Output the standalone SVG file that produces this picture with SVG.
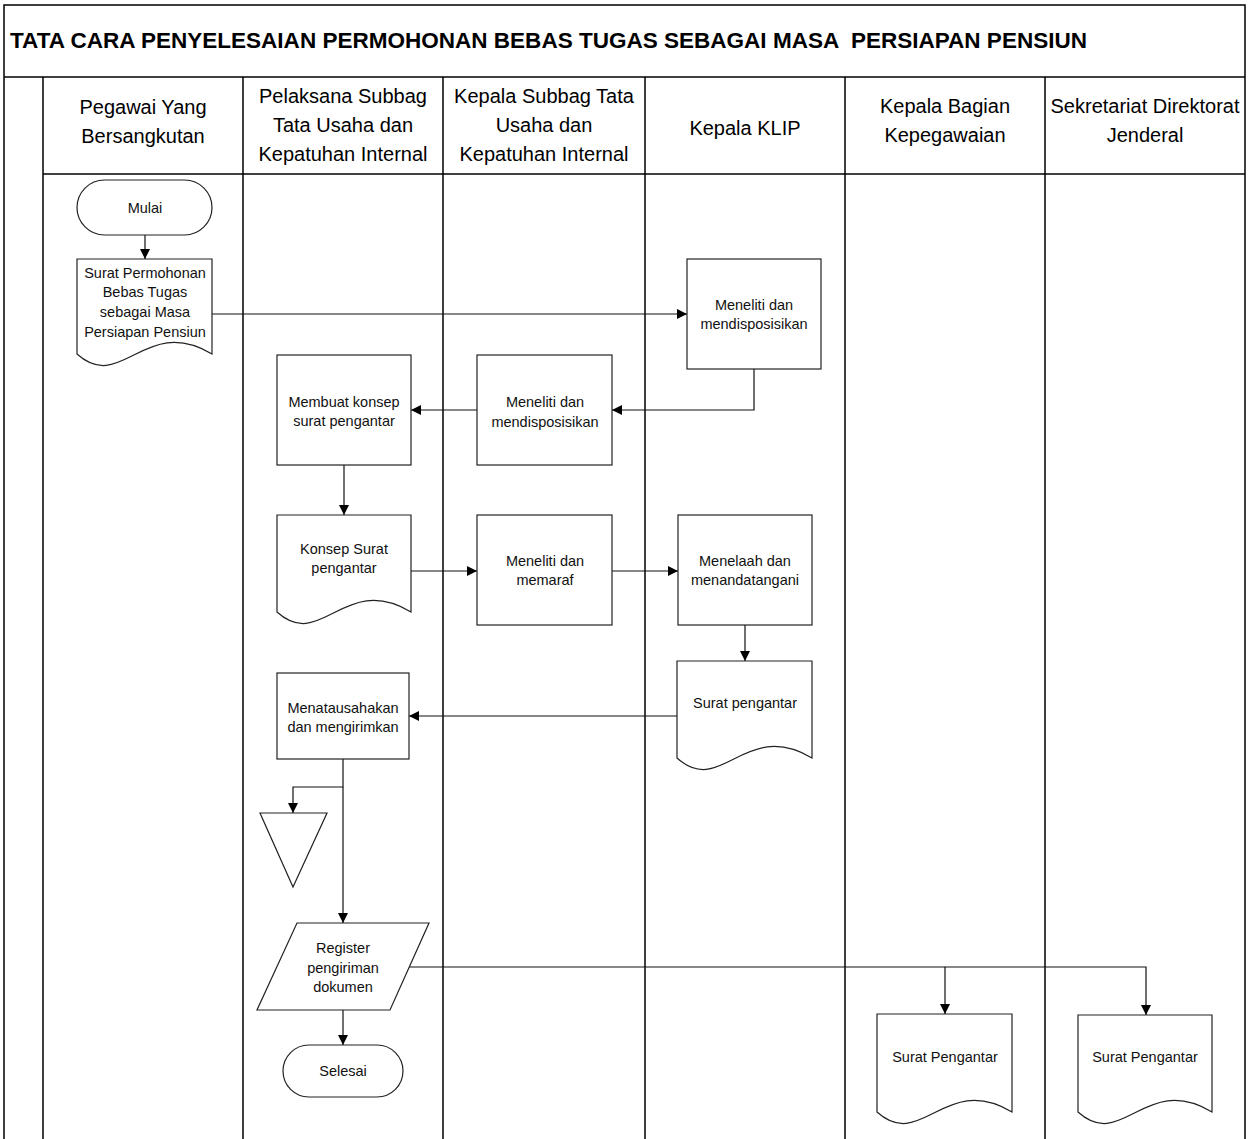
<svg xmlns="http://www.w3.org/2000/svg" width="1255" height="1139" viewBox="0 0 1255 1139">
<defs>
<marker id="arr" viewBox="0 0 10 10" refX="10" refY="5" markerWidth="10" markerHeight="10" markerUnits="userSpaceOnUse" orient="auto">
<path d="M0,0 L10,5 L0,10 Z" fill="#000"/>
</marker>
<style>
.lane{stroke:#000;stroke-width:1.5;fill:none}
.shape{stroke:#222;stroke-width:1.2;fill:#fff}
.conn{stroke:#111;stroke-width:1.2;fill:none}
.title{font-family:"Liberation Sans",Arial,sans-serif;font-weight:bold;font-size:22.5px;fill:#000;white-space:pre}
.hdr{font-family:"Liberation Sans",Arial,sans-serif;font-size:20px;fill:#000;text-anchor:middle}
.lbl{font-family:"Liberation Sans",Arial,sans-serif;font-size:14.5px;fill:#111;text-anchor:middle}
</style>
</defs>
<rect width="1255" height="1139" fill="#fff"/>
<g id="frame">
<path class="lane" d="M4,1139 V5 H1245 V1139"/>
<line class="lane" x1="4" y1="77" x2="1245" y2="77"/>
<line class="lane" x1="43" y1="174" x2="1245" y2="174"/>
<line class="lane" x1="43" y1="77" x2="43" y2="1139"/>
<line class="lane" x1="243" y1="77" x2="243" y2="1139"/>
<line class="lane" x1="443" y1="77" x2="443" y2="1139"/>
<line class="lane" x1="645" y1="77" x2="645" y2="1139"/>
<line class="lane" x1="845" y1="77" x2="845" y2="1139"/>
<line class="lane" x1="1045" y1="77" x2="1045" y2="1139"/>
<text class="title" x="10" y="48" xml:space="preserve" textLength="1077" lengthAdjust="spacingAndGlyphs">TATA CARA PENYELESAIAN PERMOHONAN BEBAS TUGAS SEBAGAI MASA  PERSIAPAN PENSIUN</text>
</g>
<g id="headers">
<text class="hdr" x="143" y="114">Pegawai Yang</text>
<text class="hdr" x="143" y="143">Bersangkutan</text>
<text class="hdr" x="343" y="103">Pelaksana Subbag</text>
<text class="hdr" x="343" y="132">Tata Usaha dan</text>
<text class="hdr" x="343" y="161">Kepatuhan Internal</text>
<text class="hdr" x="544" y="103">Kepala Subbag Tata</text>
<text class="hdr" x="544" y="132">Usaha dan</text>
<text class="hdr" x="544" y="161">Kepatuhan Internal</text>
<text class="hdr" x="745" y="135">Kepala KLIP</text>
<text class="hdr" x="945" y="113">Kepala Bagian</text>
<text class="hdr" x="945" y="142">Kepegawaian</text>
<text class="hdr" x="1145" y="113">Sekretariat Direktorat</text>
<text class="hdr" x="1145" y="142">Jenderal</text>
</g>
<g id="connectors">
<path class="conn" d="M145,235 V259" marker-end="url(#arr)"/>
<path class="conn" d="M212,314 H687" marker-end="url(#arr)"/>
<path class="conn" d="M754,369 V410 H612" marker-end="url(#arr)"/>
<path class="conn" d="M477,410 H411" marker-end="url(#arr)"/>
<path class="conn" d="M344,465 V515" marker-end="url(#arr)"/>
<path class="conn" d="M411,571 H477" marker-end="url(#arr)"/>
<path class="conn" d="M612,571 H678" marker-end="url(#arr)"/>
<path class="conn" d="M745,625 V661" marker-end="url(#arr)"/>
<path class="conn" d="M677,716 H409" marker-end="url(#arr)"/>
<path class="conn" d="M343,759 V787 H293 V813" marker-end="url(#arr)"/>
<path class="conn" d="M343,787 V923" marker-end="url(#arr)"/>
<path class="conn" d="M409,967 H945 V1014" marker-end="url(#arr)"/>
<path class="conn" d="M945,967 H1146 V1015" marker-end="url(#arr)"/>
<path class="conn" d="M343,1010 V1045" marker-end="url(#arr)"/>
</g>
<g id="n-mulai">
<rect class="shape" x="77" y="180" width="135" height="55" rx="27.5"/>
<text class="lbl" x="145" y="213">Mulai</text>
</g>
<g id="n-surat-permohonan">
<path class="shape" d="M77,259 H212 V354 C144.5,314 121.5,394 77,354 Z"/>
<text class="lbl" x="145" y="278">Surat Permohonan</text>
<text class="lbl" x="145" y="297">Bebas Tugas</text>
<text class="lbl" x="145" y="317">sebagai Masa</text>
<text class="lbl" x="145" y="337">Persiapan Pensiun</text>
</g>
<g id="n-klip-meneliti">
<rect class="shape" x="687" y="259" width="134" height="110"/>
<text class="lbl" x="754" y="310">Meneliti dan</text>
<text class="lbl" x="754" y="329">mendisposisikan</text>
</g>
<g id="n-kasubbag-meneliti">
<rect class="shape" x="477" y="355" width="135" height="110"/>
<text class="lbl" x="545" y="407">Meneliti dan</text>
<text class="lbl" x="545" y="427">mendisposisikan</text>
</g>
<g id="n-membuat-konsep">
<rect class="shape" x="277" y="355" width="134" height="110"/>
<text class="lbl" x="344" y="407">Membuat konsep</text>
<text class="lbl" x="344" y="426">surat pengantar</text>
</g>
<g id="n-konsep-surat">
<path class="shape" d="M277,515 H411 V612 C344,572 321.2,652 277,612 Z"/>
<text class="lbl" x="344" y="554">Konsep Surat</text>
<text class="lbl" x="344" y="573">pengantar</text>
</g>
<g id="n-memaraf">
<rect class="shape" x="477" y="515" width="135" height="110"/>
<text class="lbl" x="545" y="566">Meneliti dan</text>
<text class="lbl" x="545" y="585">memaraf</text>
</g>
<g id="n-menandatangani">
<rect class="shape" x="678" y="515" width="134" height="110"/>
<text class="lbl" x="745" y="566">Menelaah dan</text>
<text class="lbl" x="745" y="585">menandatangani</text>
</g>
<g id="n-surat-pengantar-klip">
<path class="shape" d="M677,661 H812 V758 C744.5,718 721.5,798 677,758 Z"/>
<text class="lbl" x="745" y="708">Surat pengantar</text>
</g>
<g id="n-menatausahakan">
<rect class="shape" x="277" y="673" width="132" height="86"/>
<text class="lbl" x="343" y="713">Menatausahakan</text>
<text class="lbl" x="343" y="732">dan mengirimkan</text>
</g>
<g id="n-arsip">
<path class="shape" d="M260,813 H327 L293,887 Z"/>
</g>
<g id="n-register">
<path class="shape" d="M297,923 H429 L390,1010 H257 Z"/>
<text class="lbl" x="343" y="953">Register</text>
<text class="lbl" x="343" y="973">pengiriman</text>
<text class="lbl" x="343" y="992">dokumen</text>
</g>
<g id="n-selesai">
<rect class="shape" x="283" y="1045" width="120" height="52" rx="26"/>
<text class="lbl" x="343" y="1076">Selesai</text>
</g>
<g id="n-surat-pengantar-kabag">
<path class="shape" d="M877,1014 H1012 V1112 C944.5,1072 921.5,1152 877,1112 Z"/>
<text class="lbl" x="945" y="1062">Surat Pengantar</text>
</g>
<g id="n-surat-pengantar-setditjen">
<path class="shape" d="M1078,1015 H1212 V1112 C1145,1072 1122.2,1152 1078,1112 Z"/>
<text class="lbl" x="1145" y="1062">Surat Pengantar</text>
</g>
</svg>
